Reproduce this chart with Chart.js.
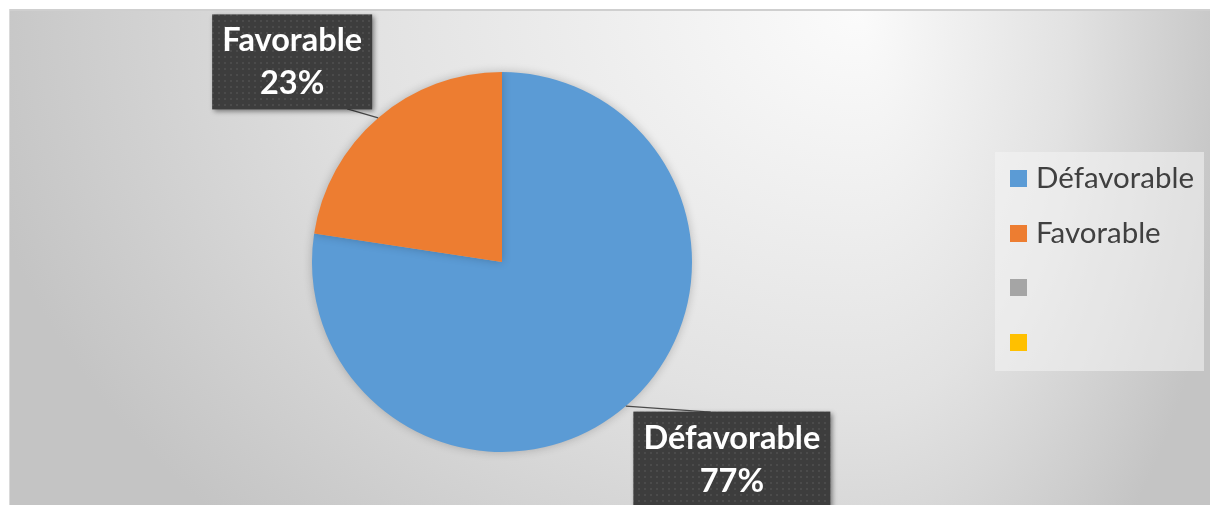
<!DOCTYPE html>
<html>
<head>
<meta charset="utf-8">
<script src="https://cdn.jsdelivr.net/npm/chart.js@4.4.1/dist/chart.umd.min.js"></script>
<style>
  html, body { margin: 0; padding: 0; background: #fff; }
  #wrap { position: relative; width: 1210px; height: 505px; overflow: hidden; }
  #chart { position: absolute; left: 0; top: 0; }
  #legend {
    position: absolute; left: 995px; top: 152px; width: 209px; height: 219px;
    background: rgba(244, 244, 244, 0.55);
    font-family: Lato, "Open Sans", sans-serif; font-size: 29.5px; color: #404040;
  }
  .item { position: absolute; left: 15px; height: 30px; line-height: 30px; white-space: nowrap; }
  .item span.box { position: absolute; left: 0; top: 6px; width: 17px; height: 17px; }
  .item span.txt { position: absolute; left: 26px; top: -2px; }
</style>
</head>
<body>
<div id="wrap">
  <canvas id="chart" width="1210" height="505"></canvas>
  <div id="legend"></div>
</div>
<script>
// pie data (shares, labels show them rounded)
const labels = ['Défavorable', 'Favorable', '', ''];
const values = [77.4, 22.6, 0, 0];
const colors = ['#5B9BD5', '#ED7D31', '#A5A5A5', '#FFC000'];

// where each callout box sits relative to the slice edge (dx, dy of box centre) and where the leader meets it
const callouts = [
  { dx: 106, dy: 53, w: 197, h: 95, ax: -21, ay: -47 },
  { dx: -86, dy: -56, w: 160, h: 95, ax: 55, ay: 47 }
];

// legend built from the arrays
let legendDiv = document.getElementById('legend');
labels.forEach((lab, i) => {
  let item = document.createElement('div');
  item.className = 'item';
  item.style.top = (12 + i * 54.5) + 'px';
  let box = document.createElement('span');
  box.className = 'box';
  box.style.background = colors[i];
  let txt = document.createElement('span');
  txt.className = 'txt';
  txt.textContent = lab;
  item.appendChild(box);
  item.appendChild(txt);
  legendDiv.appendChild(item);
});

// dotted fill for the callout boxes
function dotPattern(ctx) {
  let c = document.createElement('canvas');
  c.width = 6; c.height = 6;
  let g = c.getContext('2d');
  g.fillStyle = '#3d3d3d';
  g.fillRect(0, 0, 6, 6);
  g.fillStyle = '#4b4b4b';
  g.fillRect(2, 2, 2, 2);
  return ctx.createPattern(c, 'repeat');
}

// background: light spot near the top right, greying towards the edges
const backgroundPlugin = {
  id: 'bg',
  beforeDraw(chart) {
    let ctx = chart.ctx;
    let cx = 860, cy = 12;
    ctx.save();
    ctx.fillStyle = '#fff';
    ctx.fillRect(0, 0, 1210, 505);
    [[9, cx, 900], [cx, 1210, 380]].forEach(([x0, x1, rx]) => {
      ctx.save();
      ctx.beginPath();
      ctx.rect(x0, 10, x1 - x0, 495);
      ctx.clip();
      ctx.translate(cx, cy);
      ctx.scale(rx / 720, 1);
      let g = ctx.createRadialGradient(0, 0, 0, 0, 0, 720);
      g.addColorStop(0, '#fbfbfb');
      g.addColorStop(0.55, '#e2e2e2');
      g.addColorStop(1, '#c4c4c4');
      ctx.fillStyle = g;
      ctx.fillRect(-2000, -100, 4000, 1000);
      ctx.restore();
    });
    ctx.fillStyle = '#cfcfcf';
    ctx.fillRect(9, 9, 1201, 2);
    ctx.fillStyle = '#dadada';
    ctx.fillRect(9, 9, 1, 496);
    ctx.restore();
  },
  beforeDatasetsDraw(chart) {
    let ctx = chart.ctx;
    ctx.save();
    ctx.shadowColor = 'rgba(0,0,0,0.22)';
    ctx.shadowBlur = 10;
  },
  afterDatasetsDraw(chart) {
    chart.ctx.restore();
  }
};

// callout labels: name + percentage in a dark box with a leader line
const calloutPlugin = {
  id: 'callouts',
  afterDraw(chart) {
    let ctx = chart.ctx;
    let total = values.reduce((a, b) => a + b, 0);
    let meta = chart.getDatasetMeta(0);
    let pat = dotPattern(ctx);
    meta.data.forEach((arc, i) => {
      if (!values[i] || !callouts[i]) return;
      let p = arc.getProps(['x', 'y', 'startAngle', 'endAngle', 'outerRadius'], true);
      let mid = (p.startAngle + p.endAngle) / 2;
      let ex = p.x + Math.cos(mid) * p.outerRadius;
      let ey = p.y + Math.sin(mid) * p.outerRadius;
      let c = callouts[i];
      let bx = ex + c.dx, by = ey + c.dy;

      // leader
      ctx.save();
      ctx.strokeStyle = '#4a4a4a';
      ctx.lineWidth = 1.3;
      ctx.beginPath();
      ctx.moveTo(ex, ey);
      ctx.lineTo(bx + c.ax, by + c.ay);
      ctx.stroke();
      ctx.restore();

      // box
      ctx.save();
      ctx.shadowColor = 'rgba(0,0,0,0.45)';
      ctx.shadowBlur = 5;
      ctx.shadowOffsetX = 2;
      ctx.shadowOffsetY = 2;
      ctx.fillStyle = pat;
      ctx.fillRect(bx - c.w / 2, by - c.h / 2, c.w, c.h);
      ctx.restore();

      // text
      ctx.save();
      ctx.fillStyle = '#ffffff';
      ctx.font = 'bold 32.5px Lato, "Open Sans", sans-serif';
      ctx.textAlign = 'center';
      ctx.textBaseline = 'middle';
      ctx.fillText(labels[i], bx, by - 21);
      ctx.fillText(Math.round(values[i] / total * 100) + '%', bx, by + 22);
      ctx.restore();
    });
  }
};

new Chart(document.getElementById('chart'), {
  type: 'pie',
  data: {
    labels: labels,
    datasets: [{
      data: values,
      backgroundColor: colors,
      borderWidth: 0
    }]
  },
  options: {
    responsive: false,
    animation: false,
    layout: { padding: { left: 312, right: 518, top: 72, bottom: 53 } },
    plugins: {
      legend: { display: false },
      tooltip: { enabled: false }
    }
  },
  plugins: [backgroundPlugin, calloutPlugin]
});
</script>
</body>
</html>
